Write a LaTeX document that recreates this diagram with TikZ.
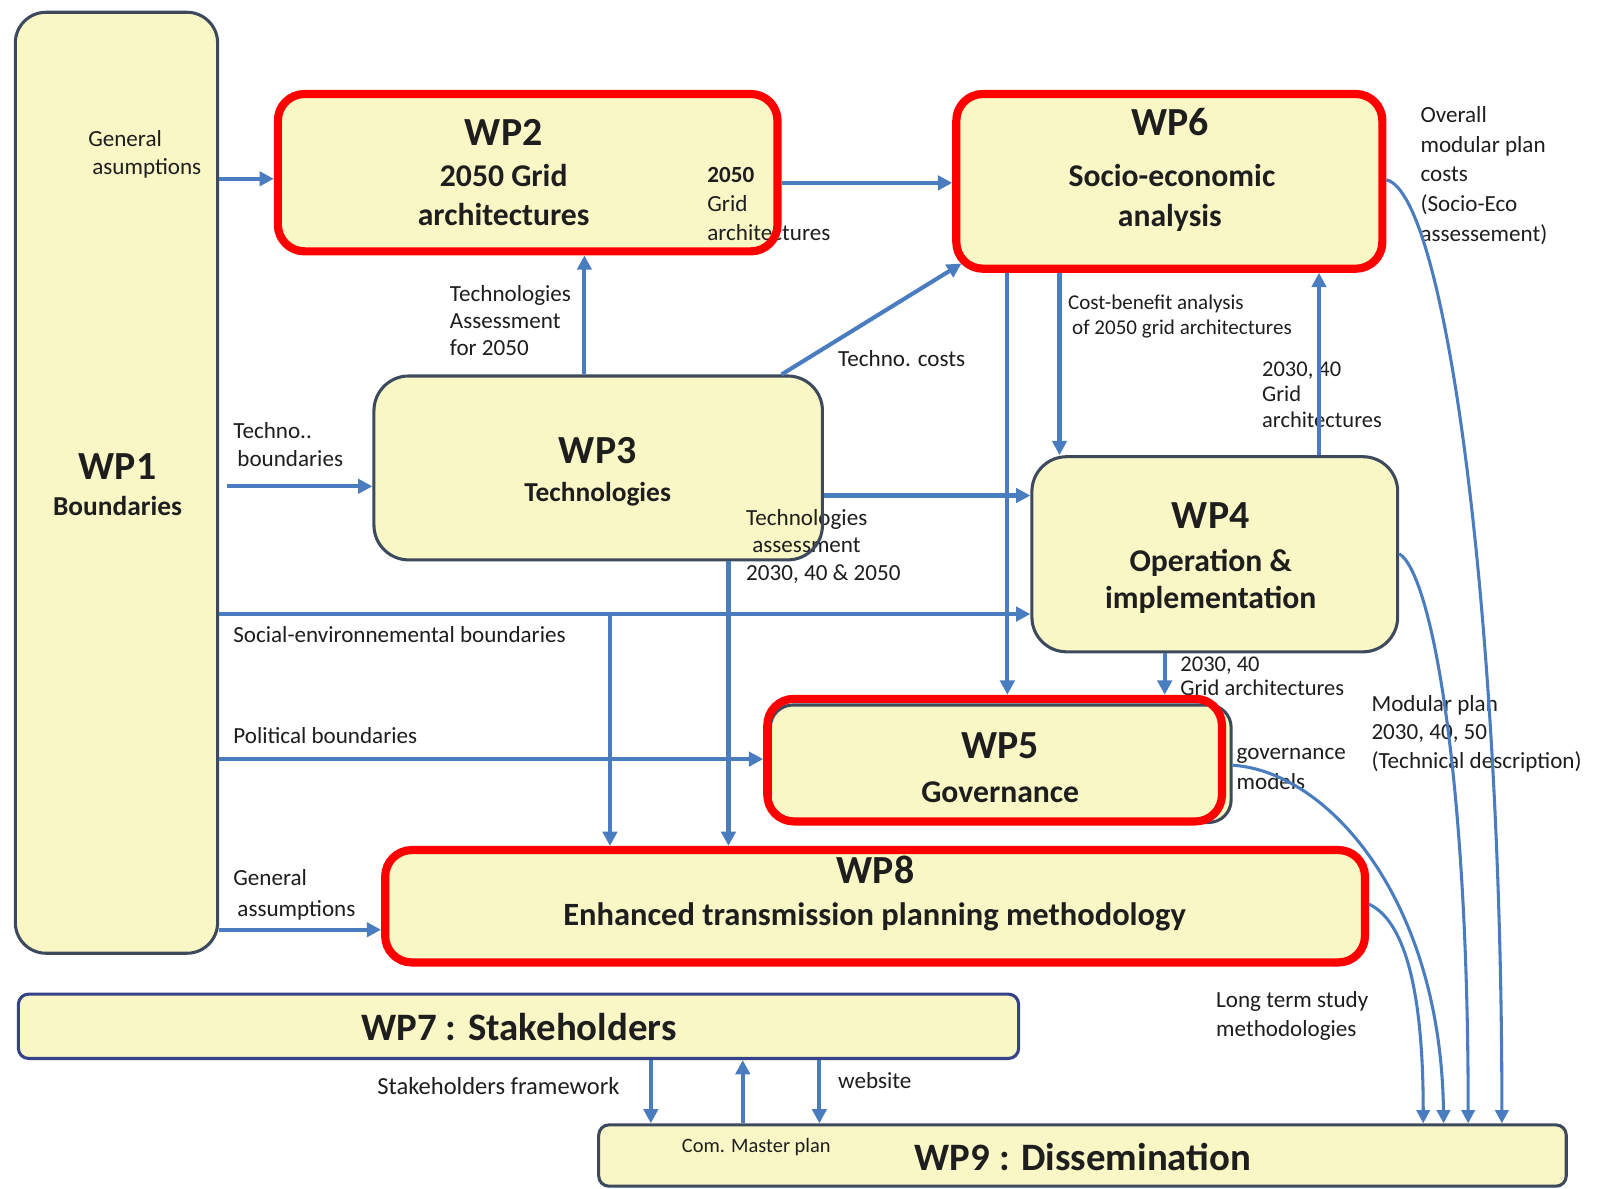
\documentclass[tikz,border=0pt]{standalone}
\usepackage{fontspec}
\setmainfont{Carlito}
\usetikzlibrary{arrows.meta}

\definecolor{boxfill}{HTML}{FAF7C6}
\definecolor{boxline}{HTML}{3D4A5E}
\definecolor{navyline}{HTML}{34428A}
\definecolor{flowblue}{HTML}{4A7DC0}
\definecolor{hired}{HTML}{FF0000}
\definecolor{inkc}{HTML}{1E1E1E}

\tikzset{
  bgfill/.style={fill=boxfill, draw=none, inner sep=0pt},
  wpbox/.style={draw=boxline, line width=1.5pt, inner sep=0pt},
  hlbox/.style={draw=hired, line width=4pt, inner sep=0pt},
  wptitle/.style={font=\fontsize{19.5}{22}\selectfont\bfseries, text=inkc, anchor=base, inner sep=0pt},
  wpsub/.style={font=\fontsize{15.5}{18}\selectfont\bfseries, text=inkc, anchor=base, inner sep=0pt},
  wpsubsmall/.style={font=\fontsize{13.4}{16}\selectfont\bfseries, text=inkc, anchor=base, inner sep=0pt},
  lbl/.style={font=\fontsize{11.3}{14}\selectfont, text=inkc, anchor=base west, align=left, inner sep=0pt},
  lbls/.style={font=\fontsize{10.3}{12}\selectfont, text=inkc, anchor=base west, align=left, inner sep=0pt},
  flow/.style={draw=flowblue, line width=2pt, -{Triangle[length=7pt,width=7pt]}},
  curveflow/.style={draw=flowblue, line width=1.5pt, -{Triangle[length=6.5pt,width=6.5pt]}},
}

\begin{document}
\begin{tikzpicture}[x=0.5pt,y=-0.5pt]
\useasboundingbox[fill=white] (0,0) rectangle (1568,1163);

% ---------- box fills ----------
\node[bgfill, rounded corners=15pt, minimum width=99pt, minimum height=460.5pt] (wp1bg) at (114,472.5) {};
\node[bgfill, rounded corners=13pt, minimum width=244.5pt, minimum height=77pt] (wp2bg) at (516.5,169) {};
\node[bgfill, rounded corners=13pt, minimum width=208.5pt, minimum height=85.5pt] (wp6bg) at (1144.5,177.5) {};
\node[bgfill, rounded corners=17pt, minimum width=219.5pt, minimum height=90pt] (wp3bg) at (585.5,458) {};
\node[bgfill, rounded corners=17pt, minimum width=179pt, minimum height=95.5pt] (wp4bg) at (1189,542.5) {};
\node[bgfill, rounded corners=11pt, minimum width=225.5pt, minimum height=57.5pt] (wp5bg) at (979.5,747.5) {};
\node[bgfill, rounded corners=13pt, minimum width=479.5pt, minimum height=55pt] (wp8bg) at (856.5,887) {};
\node[bgfill, rounded corners=5pt, minimum width=489.5pt, minimum height=31.5pt] (wp7bg) at (507.5,1004.5) {};
\node[bgfill, rounded corners=5pt, minimum width=473.5pt, minimum height=30pt] (wp9bg) at (1059.5,1131) {};

% ---------- box texts ----------
\node[wptitle] (t1a) at (115,469) {WP1};
\node[wpsubsmall] (t1b) at (115,505) {Boundaries};
\node[wptitle] (t2a) at (493,142) {WP2};
\node[wpsub] (t2b) at (493,183) {2050 Grid};
\node[wpsub] (t2c) at (493,221) {architectures};
\node[wptitle] (t6a) at (1145,133) {WP6};
\node[wpsub] (t6b) at (1147,183) {Socio-economic};
\node[wpsub] (t6c) at (1145,222) {analysis};
\node[wptitle] (t3a) at (585,454) {WP3};
\node[wpsubsmall] (t3b) at (585,491) {Technologies};
\node[wptitle] (t4a) at (1185,517) {WP4};
\node[wpsub] (t4b) at (1185,559) {Operation \&};
\node[wpsub] (t4c) at (1185,596) {implementation};
\node[wptitle] (t5a) at (979,742) {WP5};
\node[wpsub] (t5b) at (979,785) {Governance};
\node[wptitle] (t8a) at (857,865) {WP8};
\node[wpsub, font=\fontsize{15.9}{18}\selectfont\bfseries] (t8b) at (856,906) {Enhanced transmission planning methodology};
\node[wptitle, font=\fontsize{19}{22}\selectfont\bfseries] (t7) at (508,1018) {WP7 : Stakeholders};
\node[wptitle, font=\fontsize{19}{22}\selectfont\bfseries] (t9) at (1060,1146) {WP9 : Dissemination};
\node[lbls, font=\fontsize{10}{12}\selectfont] (l9) at (667,1128) {Com. Master plan};

% ---------- connector labels (anchored at the last line's baseline) ----------
\node[lbl] (g1) at (86,171) {General\\\hspace{2pt}asumptions};
\node[lbl] (g2) at (692,235) {\textbf{2050}\\Grid\\architectures};
\node[lbl, font=\fontsize{11.3}{13.3}\selectfont] (g3) at (440,348) {Technologies\\Assessment\\for 2050};
\node[lbl] (g4) at (820,359) {Techno. costs};
\node[lbl] (g5) at (228,457) {Techno..\\\hspace{2pt}boundaries};
\node[lbl, font=\fontsize{11.3}{13.5}\selectfont] (g6) at (730,568) {Technologies\\\hspace{3pt}assessment\\2030, 40 \& 2050};
\node[lbl] (g7) at (228,629) {Social-environnemental boundaries};
\node[lbl] (g8) at (228,728) {Political boundaries};
\node[lbl, font=\fontsize{11.3}{15}\selectfont] (g9) at (228,897) {General\\\hspace{2pt}assumptions};
\node[lbls] (g10) at (1045,327) {Cost-benefit analysis\\\hspace{2pt}of 2050 grid architectures};
\node[lbl, font=\fontsize{11}{12.3}\selectfont] (g11) at (1235,418) {2030, 40\\Grid\\architectures};
\node[lbl, font=\fontsize{11.3}{14.5}\selectfont] (g12) at (1390,236) {Overall\\modular plan\\costs\\(Socio-Eco\\assessement)};
\node[lbl, font=\fontsize{11}{12}\selectfont] (g13) at (1155,681) {2030, 40\\Grid architectures};
\node[lbl, font=\fontsize{11.3}{15}\selectfont] (g14) at (1210,773) {governance\\models};
\node[lbl] (g15) at (1342,752) {Modular plan\\2030, 40, 50\\(Technical description)};
\node[lbl] (g16) at (1190,1014) {Long term study\\methodologies};
\node[lbl, font=\fontsize{12}{14}\selectfont] (g17) at (369,1071) {Stakeholders framework};
\node[lbl] (g18) at (820,1065) {website};

% ---------- box outlines ----------
\node[wpbox, rounded corners=15pt, minimum width=99pt, minimum height=460.5pt] (wp1) at (114,472.5) {};
\node[hlbox, rounded corners=13pt, minimum width=244.5pt, minimum height=77pt] (wp2) at (516.5,169) {};
\node[hlbox, rounded corners=13pt, minimum width=208.5pt, minimum height=85.5pt] (wp6) at (1144.5,177.5) {};
\node[wpbox, rounded corners=17pt, minimum width=219.5pt, minimum height=90pt] (wp3) at (585.5,458) {};
\node[wpbox, rounded corners=17pt, minimum width=179pt, minimum height=95.5pt] (wp4) at (1189,542.5) {};
\node[wpbox, rounded corners=11pt, minimum width=225.5pt, minimum height=57.5pt] (wp5in) at (979.5,747.5) {};
\node[hlbox, rounded corners=13pt, minimum width=222.5pt, minimum height=60pt] (wp5) at (973.5,744) {};
\node[hlbox, rounded corners=13pt, minimum width=479.5pt, minimum height=55pt] (wp8) at (856.5,887) {};
\node[wpbox, draw=navyline, rounded corners=5pt, minimum width=489.5pt, minimum height=31.5pt] (wp7) at (507.5,1004.5) {};
\node[wpbox, rounded corners=5pt, minimum width=473.5pt, minimum height=30pt] (wp9) at (1059.5,1131) {};

% ---------- connectors ----------
\draw[flow] (wp1.east |- 0,175) -- (wp2.west |- 0,175);
\draw[flow] (wp2.east |- 0,179) -- (wp6.west |- 0,179);
\draw[flow] (wp3.north -| 572,0) -- (wp2.south -| 572,0);
\draw[flow] (wp3.north -| 765,0) -- ([shift={(9,-9)}]wp6.south west);
\draw[flow] ([xshift=4pt]wp1.east |- 0,476) -- (wp3.west |- 0,476);
\draw[flow] (wp3.east |- 0,485) -- (wp4.west |- 0,485);
\draw[flow] (wp1.east |- 0,601) -- (wp4.west |- 0,601);
\coordinate (sejoin) at (597,601);
\draw[flow] (sejoin) -- (wp8.north -| sejoin);
\draw[flow] (wp3.south -| 713,0) -- (wp8.north -| 713,0);
\draw[flow] (wp1.east |- 0,743) -- (wp5.west |- 0,743);
\draw[flow] (wp1.east |- 0,910) -- (wp8.west |- 0,910);
\draw[flow] (wp6.south -| 1037,0) -- (wp4.north -| 1037,0);
\draw[flow] (wp4.north -| 1291,0) -- (wp6.south -| 1291,0);
\draw[flow] (wp6.south -| 986,0) -- (wp5.north -| 986,0);
\draw[flow] (wp4.south -| 1140,0) -- (wp5.north -| 1140,0);
\draw[flow] (wp7.south -| 637,0) -- (wp9.north -| 637,0);
\draw[flow] (wp9.north -| 727,0) -- (wp7.south -| 727,0);
\draw[flow] (wp7.south -| 802,0) -- (wp9.north -| 802,0);

\draw[curveflow] (wp6.east |- 0,176) .. controls (1415,190) and (1470,600) .. (wp9.north -| 1470,0);
\draw[curveflow] (wp4.east |- 0,542) .. controls (1400,560) and (1437,750) .. (wp9.north -| 1437,0);
\draw[curveflow] (wp5in.east |- 0,749) .. controls (1300,755) and (1410,880) .. (wp9.north -| 1413,0);
\draw[curveflow] (wp8.east |- 0,885) .. controls (1372,900) and (1393,960) .. (wp9.north -| 1393,0);

\end{tikzpicture}
\end{document}
